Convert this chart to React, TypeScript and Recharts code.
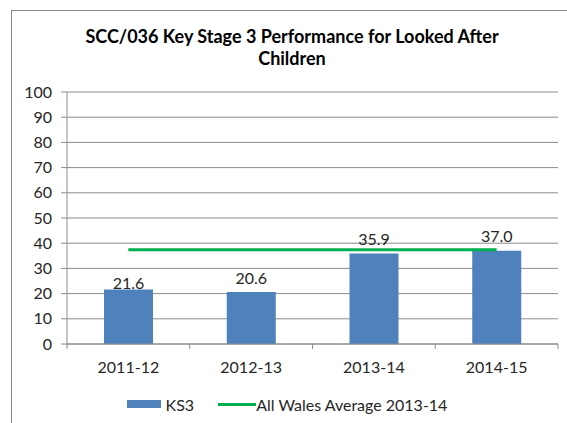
import React from "react";
import { ComposedChart, Bar, Line, XAxis, YAxis, CartesianGrid, LabelList, Legend } from "recharts";

const years = ["2011-12", "2012-13", "2013-14", "2014-15"];
const ks3 = [21.6, 20.6, 35.9, 37.0];
const walesAvg = [37.4, 37.4, 37.4, 37.4];
const yTicks = [0, 10, 20, 30, 40, 50, 60, 70, 80, 90, 100];

const data = years.map((year, i) => ({ year, ks3: ks3[i], avg: walesAvg[i] }));

// excel had the labels nudged by hand, gap between bar top and text baseline
const LABEL_GAP = [1, 8, 9, 9];
const BAND = 491 / 4;
const FONT = "Lato, 'Open Sans', sans-serif";
const TEXT = "#262626";
const GRID = "#8c8c8c";

const CategoryTick = (props: any) => {
    const { x, y, payload, index } = props;
    const left = x - BAND / 2;
    return (
        <g>
            <line x1={left} x2={left} y1={y} y2={y + 5} stroke={GRID} />
            {index === years.length - 1 && (
                <line x1={x + BAND / 2} x2={x + BAND / 2} y1={y} y2={y + 5} stroke={GRID} />
            )}
            <text x={x} y={y + 23} dy="0.36em" textAnchor="middle" fill={TEXT} fontSize={16} fontFamily={FONT}>
                {payload.value}
            </text>
        </g>
    );
};

const BarValue = (props: any) => {
    const { x, y, width, value, index } = props;
    return (
        <text x={x + width / 2} y={y - LABEL_GAP[index]} textAnchor="middle" fill={TEXT} fontSize={16} fontFamily={FONT}>
            {Number(value).toFixed(1)}
        </text>
    );
};

const ChartLegend = () => (
    <div style={{ display: "flex", justifyContent: "center", alignItems: "center", height: 20, fontFamily: FONT, fontSize: 16, color: TEXT }}>
        <span style={{ display: "inline-block", width: 34, height: 8, background: "#4F81BD", marginLeft: 4 }} />
        <span style={{ marginLeft: 5 }}>KS3</span>
        <span style={{ display: "inline-block", width: 38, height: 3, background: "#00B050", marginLeft: 24 }} />
        <span>All Wales Average 2013-14</span>
    </div>
);

export default function App() {
    return (
        <div
            style={{
                position: "absolute",
                left: 11,
                top: 10,
                width: 562,
                height: 420,
                border: "1px solid #868686",
                boxSizing: "border-box",
                background: "#fff",
            }}
        >
            <div
                style={{
                    position: "absolute",
                    top: 14,
                    left: 0,
                    width: 560,
                    textAlign: "center",
                    fontFamily: FONT,
                    fontWeight: 700,
                    fontSize: 18,
                    lineHeight: "22px",
                    color: "#000",
                }}
            >
                SCC/036 Key Stage 3 Performance for Looked After
                <br />
                Children
            </div>
            <ComposedChart width={560} height={418} data={data} margin={{ top: 81, right: 14, bottom: 15, left: 0 }}>
                <CartesianGrid vertical={false} stroke={GRID} />
                <XAxis
                    dataKey="year"
                    height={50}
                    axisLine={{ stroke: GRID }}
                    tickLine={false}
                    tickSize={0}
                    tickMargin={0}
                    tick={<CategoryTick />}
                    interval={0}
                />
                <YAxis
                    width={55}
                    domain={[0, 100]}
                    ticks={yTicks}
                    interval={0}
                    axisLine={{ stroke: GRID }}
                    tickLine={{ stroke: GRID }}
                    tickSize={6}
                    tickMargin={9}
                    tick={{ fill: TEXT, fontSize: 16, fontFamily: FONT }}
                />
                <Bar dataKey="ks3" name="KS3" fill="#4F81BD" barSize={49} isAnimationActive={false}>
                    <LabelList dataKey="ks3" content={<BarValue />} />
                </Bar>
                <Line
                    dataKey="avg"
                    name="All Wales Average 2013-14"
                    type="linear"
                    stroke="#00B050"
                    strokeWidth={3}
                    dot={false}
                    activeDot={false}
                    isAnimationActive={false}
                />
                <Legend verticalAlign="bottom" content={<ChartLegend />} />
            </ComposedChart>
        </div>
    );
}
